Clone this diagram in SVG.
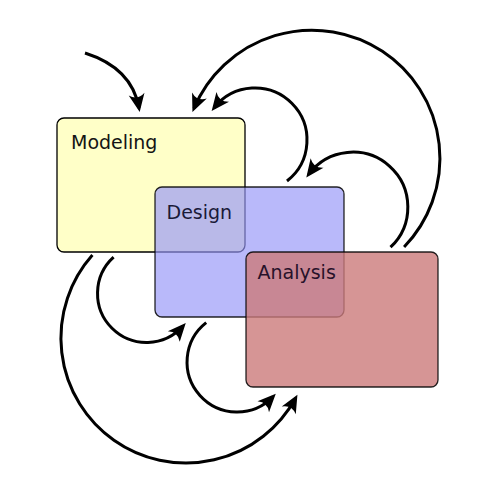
<svg xmlns="http://www.w3.org/2000/svg" width="492" height="495" viewBox="0 0 492 495">
  <style>
    .lbl { font-family: "DejaVu Sans", "Liberation Sans", sans-serif; font-size: 19px; }
    .conn { fill: none; stroke: #000; stroke-width: 3; marker-end: url(#ah); }
    .box { stroke-width: 1.3; }
  </style>
  <defs>
    <marker id="ah" markerUnits="userSpaceOnUse" viewBox="-20 -10 24 20" markerWidth="24" markerHeight="20" refX="-4" refY="0" orient="auto" overflow="visible">
      <path d="M0,0 L-18,-8 Q-11.5,0 -18,8 Z" fill="#000"/>
    </marker>
  </defs>
  <rect width="492" height="495" fill="#fff"/>
  <g id="node-modeling">
    <rect class="box" x="57" y="118" width="188" height="134" rx="7" fill="#ffffc8" stroke="#000"/>
    <text class="lbl" x="71" y="149" fill="#141414">Modeling</text>
  </g>
  <g id="node-design">
    <rect class="box" x="155" y="187" width="189" height="130" rx="7" fill="rgb(150,150,248)" fill-opacity="0.67" stroke="#000" stroke-opacity="0.85"/>
    <text class="lbl" x="166.5" y="219" fill="#1a1a38">Design</text>
  </g>
  <g id="node-analysis">
    <rect class="box" x="246" y="252" width="192" height="135" rx="7" fill="rgb(204,122,122)" fill-opacity="0.8" stroke="#000" stroke-opacity="0.85"/>
    <text class="lbl" x="257.5" y="279" fill="#28122a">Analysis</text>
  </g>
  <g id="connectors">
    <path class="conn" d="M85,53 Q132,68 139,108"/>
    <path class="conn" d="M404.1,247 A128,128 0 1 0 194,108.4"/>
    <path class="conn" d="M287,181 A52,52 0 1 0 214.1,107.9"/>
    <path class="conn" d="M390.5,247.2 A55,55 0 1 0 308.7,174.3"/>
    <path class="conn" d="M113.6,257.2 A49,49 0 1 0 183.1,326.1"/>
    <path class="conn" d="M206.2,322.6 A50,50 0 1 0 273,396.7"/>
    <path class="conn" d="M92.4,255.1 A125,125 0 1 0 295.5,398.2"/>
  </g>
</svg>
